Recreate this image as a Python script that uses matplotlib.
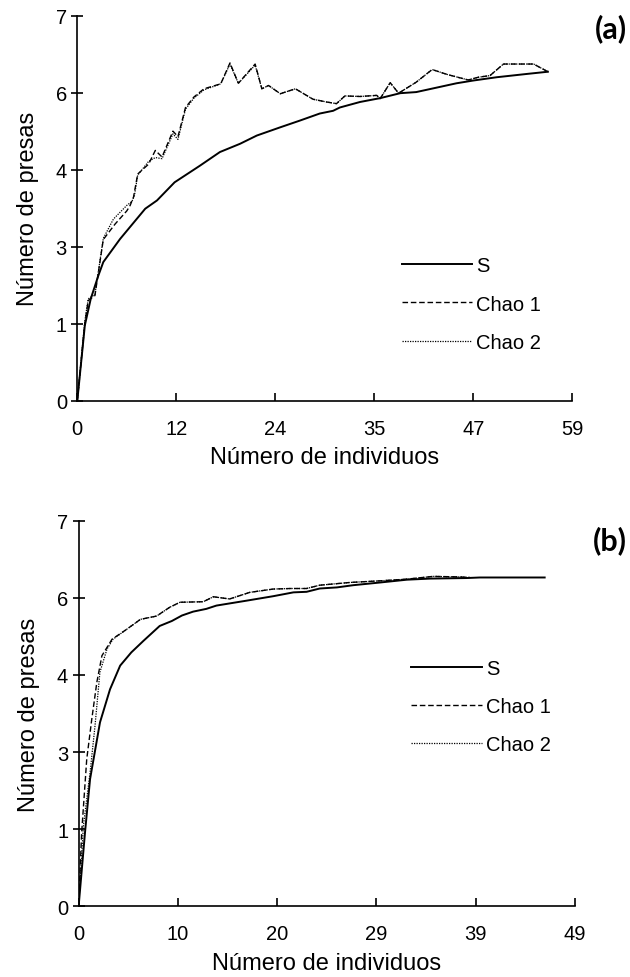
import numpy as np
import matplotlib
matplotlib.use('Agg')
import matplotlib.pyplot as plt

plt.rcParams['font.family'] = ['Liberation Sans', 'DejaVu Sans']

# Panel (a) data
a_s_x = [0, 0.9, 1.6, 2.5, 3.1, 5.1, 8.1, 9.5, 11.6, 12.2, 14.6, 17.0, 19.4, 21.4, 24.2, 26.5,
         28.9, 30.5, 31.3, 33.7, 36.1, 38.5, 40.4, 42.8, 45.2, 47.2, 50.0, 53.6, 56.1]
a_s_y = [0, 1.37, 1.85, 2.27, 2.52, 2.94, 3.49, 3.64, 3.97, 4.03, 4.27, 4.52, 4.67, 4.82, 4.97, 5.09,
         5.22, 5.27, 5.33, 5.43, 5.50, 5.59, 5.61, 5.69, 5.77, 5.82, 5.88, 5.94, 5.98]

a_c1_x = [0, 0.9, 1.3, 2.1, 3.1, 4.5, 5.9, 6.3, 6.7, 7.2, 8.5, 9.3, 10.1, 11.4, 12.0, 12.9, 13.9,
          15.1, 17.1, 18.2, 19.2, 21.2, 22.0, 22.8, 24.2, 26.0, 28.1, 29.7, 30.9, 31.9, 33.7, 35.7,
          36.1, 37.3, 38.3, 40.4, 42.3, 44.1, 46.6, 47.8, 49.2, 50.8, 54.4, 56.1]
a_c1_y = [0, 1.40, 1.82, 1.91, 2.93, 3.21, 3.45, 3.55, 3.70, 4.12, 4.30, 4.55, 4.43, 4.90, 4.80, 5.33, 5.52,
          5.67, 5.76, 6.14, 5.77, 6.12, 5.67, 5.73, 5.58, 5.67, 5.48, 5.43, 5.40, 5.54, 5.53, 5.55,
          5.49, 5.78, 5.59, 5.79, 6.02, 5.93, 5.83, 5.88, 5.91, 6.12, 6.12, 5.98]

a_c2_x = [0, 0.9, 1.3, 2.1, 3.1, 4.3, 5.9, 6.5, 6.8, 7.2, 8.5, 9.3, 10.1, 11.4, 12.0, 12.9, 13.9,
          15.1, 17.1, 18.2, 19.2, 21.2, 22.0, 22.8, 24.2, 26.0, 28.1, 29.7, 30.9, 31.9, 33.7, 35.7,
          36.1, 37.3, 38.3, 40.4, 42.3, 44.1, 46.6, 47.8, 49.2, 50.8, 54.4, 56.1]
a_c2_y = [0, 1.45, 1.85, 1.93, 2.95, 3.30, 3.55, 3.62, 3.72, 4.10, 4.35, 4.42, 4.40, 4.85, 4.75, 5.30, 5.50,
          5.65, 5.76, 6.12, 5.77, 6.10, 5.67, 5.73, 5.58, 5.67, 5.48, 5.43, 5.40, 5.54, 5.53, 5.55,
          5.49, 5.78, 5.59, 5.79, 6.02, 5.93, 5.83, 5.88, 5.91, 6.12, 6.12, 5.98]

# Panel (b) data
b_s_x = [0, 0.63, 1.13, 2.11, 3.1, 4.1, 5.2, 6.4, 8.0, 9.2, 10.2, 11.3, 12.6, 13.6, 16.6, 19.2,
         21.2, 22.5, 23.8, 25.5, 27.1, 29.8, 32.4, 34.7, 38.3, 39.6, 46.0]
b_s_y = [0, 1.34, 2.31, 3.34, 3.94, 4.37, 4.61, 4.82, 5.09, 5.18, 5.28, 5.35, 5.40, 5.46, 5.55, 5.63,
         5.70, 5.71, 5.77, 5.79, 5.83, 5.88, 5.93, 5.95, 5.96, 5.97, 5.97]

b_c1_x = [0, 0.3, 0.8, 1.3, 1.8, 2.3, 3.3, 4.75, 6.1, 7.7, 9.0, 10.0, 12.3, 13.3, 14.9, 16.9,
          19.2, 20.9, 22.5, 23.8, 26.8, 29.8, 32.4, 35.0, 37.7, 38.6]
b_c1_y = [0, 1.34, 2.67, 3.40, 4.07, 4.55, 4.85, 5.03, 5.21, 5.27, 5.43, 5.52, 5.53, 5.62, 5.58, 5.70,
          5.76, 5.77, 5.77, 5.83, 5.88, 5.91, 5.94, 5.99, 5.98, 5.97]

b_c2_x = [0, 0.47, 1.13, 1.62, 2.1, 2.8, 3.4, 4.75, 6.1, 7.7, 9.0, 10.0, 12.3, 13.3, 14.9, 16.9,
          19.2, 20.9, 22.5, 23.8, 26.8, 29.8, 32.4, 35.0, 37.7, 38.6]
b_c2_y = [0, 1.46, 2.43, 3.28, 4.25, 4.67, 4.85, 5.03, 5.21, 5.27, 5.43, 5.52, 5.53, 5.62, 5.58, 5.70,
          5.76, 5.77, 5.77, 5.83, 5.88, 5.91, 5.94, 5.99, 5.98, 5.97]

labels = ['S', 'Chao 1', 'Chao 2']

fig = plt.figure(figsize=(6.3, 9.78), dpi=100)
ax_a = fig.add_axes([0.1227, 0.5893, 0.7856, 0.3937])
ax_b = fig.add_axes([0.1248, 0.0723, 0.7880, 0.3942])


def style_panel(ax, xmax, leg_x, leg_y, tag, tag_y):
    ax.set_xlim(0, xmax)
    ax.set_ylim(0, 7)
    xt = np.linspace(0, xmax, 6)
    yt = np.linspace(0, 7, 6)
    ax.set_xticks(xt)
    ax.set_xticklabels([str(int(round(v))) for v in xt])
    ax.set_yticks(yt)
    ax.set_yticklabels([str(int(round(v))) for v in yt])
    for sp in ['top', 'right']:
        ax.spines[sp].set_visible(False)
    for sp in ['left', 'bottom']:
        ax.spines[sp].set_linewidth(1.2)
    ax.tick_params(axis='x', direction='in', length=6, width=1.2, pad=13, labelsize=14.5)
    ax.tick_params(axis='y', direction='inout', length=9, width=1.2, pad=3, labelsize=14.5)
    ax.set_xlabel('Número de individuos', fontsize=17, labelpad=6)
    ax.set_ylabel('Número de presas', fontsize=17, labelpad=12)
    ax.legend(loc='center left', bbox_to_anchor=(leg_x, leg_y), frameon=False,
              fontsize=14.5, handlelength=3.5, handletextpad=0.2, labelspacing=0.95,
              borderpad=0, borderaxespad=0)
    fig.text(0.995, tag_y, tag, ha='right', va='center', fontsize=22,
             fontweight='bold', family=['Lato', 'DejaVu Sans'])


ax_a.plot(a_s_x, a_s_y, color='black', lw=1.4, ls='-', label=labels[0])
ax_a.plot(a_c1_x, a_c1_y, color='black', lw=1.0, ls=(0, (4, 2)), label=labels[1])
ax_a.plot(a_c2_x, a_c2_y, color='black', lw=0.9, ls=(0, (1, 1)), label=labels[2])
style_panel(ax_a, 59, 0.656, 0.251, '(a)', 1 - 29 / 978)

ax_b.plot(b_s_x, b_s_y, color='black', lw=1.4, ls='-', label=labels[0])
ax_b.plot(b_c1_x, b_c1_y, color='black', lw=1.0, ls=(0, (4, 2)), label=labels[1])
ax_b.plot(b_c2_x, b_c2_y, color='black', lw=0.9, ls=(0, (1, 1)), label=labels[2])
style_panel(ax_b, 49, 0.670, 0.518, '(b)', 1 - 541 / 978)

fig.savefig('out.png', dpi=100)
